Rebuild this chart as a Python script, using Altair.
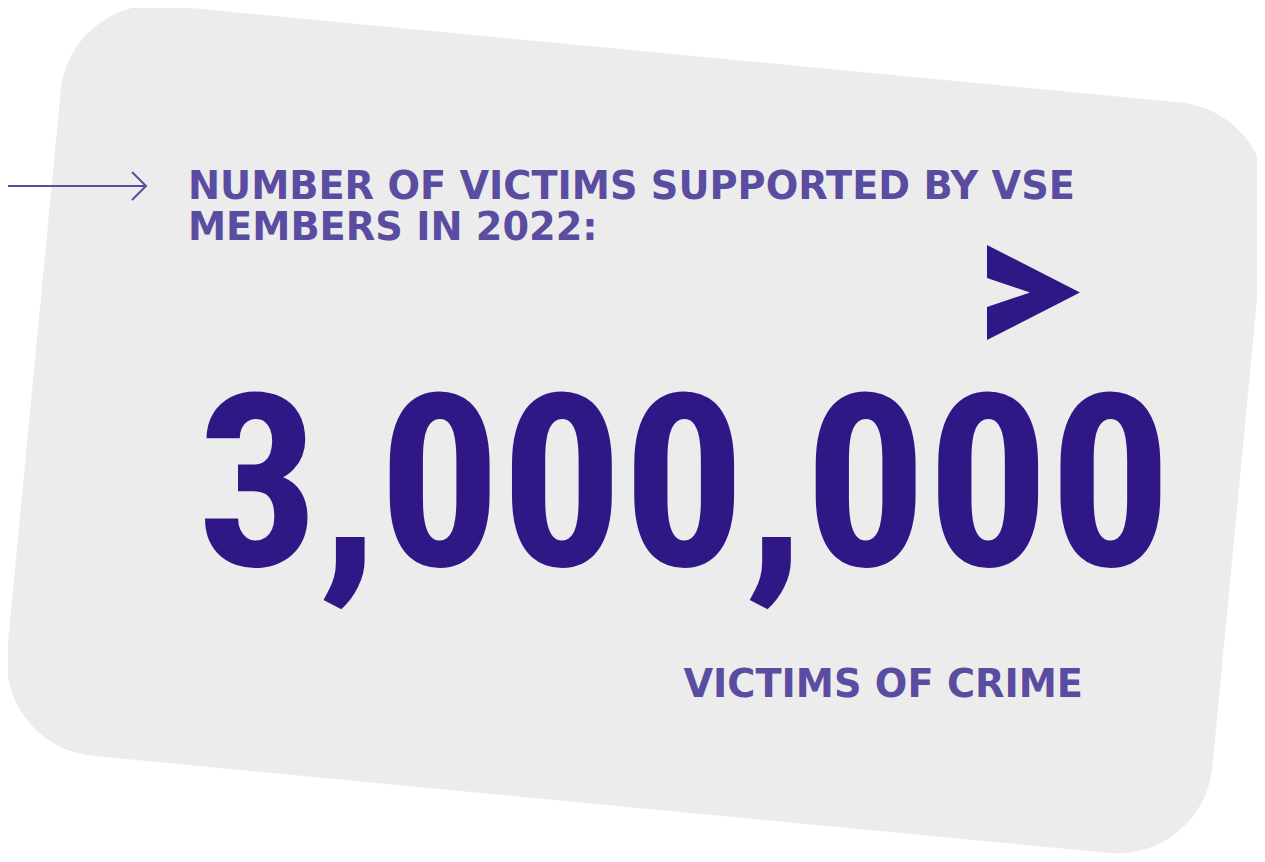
import altair as alt

# ---- data ----
headline_lines = ["NUMBER OF VICTIMS SUPPORTED BY VSE", "MEMBERS IN 2022:"]
big_number = ["3,000,000"]
unit_label = ["VICTIMS OF CRIME"]

W, H = 1249, 846
LIGHT = "#5a4ca1"
DARK = "#2f1886"
CARD = "#ececec"

# rounded rectangle path in unit coordinates (scaled by sqrt(size)/2)
h = 0.6226
r = 0.157
k = 0.5523 * r
card_path = (
    f"M {-1+r} {-h} L {1-r} {-h} "
    f"C {1-r+k} {-h} 1 {-h+r-k} 1 {-h+r} "
    f"L 1 {h-r} C 1 {h-r+k} {1-r+k} {h} {1-r} {h} "
    f"L {-1+r} {h} C {-1+r-k} {h} -1 {h-r+k} -1 {h-r} "
    f"L -1 {-h+r} C -1 {-h+r-k} {-1+r-k} {-h} {-1+r} {-h} Z"
)
chevron_path = "M -0.979 -1 L 0.979 0 L -0.979 1 L -0.979 0.305 L -0.074 0 L -0.979 -0.305 Z"
arrow_head_path = "M -0.5 -1 L 0.5 0 L -0.5 1"

one = alt.Data(values=[{"k": 0}])

card = alt.Chart(one).mark_point(
    shape=card_path, size=1210.7 ** 2, angle=5.46, filled=True,
    fill=CARD, opacity=1, strokeWidth=0
).encode(x=alt.value(628.5), y=alt.value(421.2))

shaft = alt.Chart(one).mark_rule(color=LIGHT, strokeWidth=2).encode(
    x=alt.value(0), x2=alt.value(137), y=alt.value(178)
)
head = alt.Chart(one).mark_point(
    shape=arrow_head_path, size=784, filled=False, stroke=LIGHT,
    strokeWidth=2, opacity=1
).encode(x=alt.value(131), y=alt.value(178))

headline = alt.Chart(
    alt.Data(values=[{"t": "\n".join(headline_lines)}])
).mark_text(
    font="DejaVu Sans", fontWeight="bold", fontSize=38.3, color=LIGHT,
    align="left", baseline="alphabetic", lineBreak="\n", lineHeight=41
).encode(text="t:N", x=alt.value(180), y=alt.value(191))

chevron = alt.Chart(one).mark_point(
    shape=chevron_path, size=95 ** 2, filled=True, fill=DARK,
    opacity=1, strokeWidth=0
).encode(x=alt.value(1025.5), y=alt.value(284.5))

number = alt.Chart(alt.Data(values=[{"t": big_number[0]}])).mark_text(
    font="'Roboto Condensed', 'Open Sans Condensed', 'Noto Sans Condensed', 'Noto Sans ExtraCondensed', Roboto",
    fontWeight="bold", fontSize=242,
    color=DARK, align="left", baseline="alphabetic"
).encode(text="t:N", x=alt.value(189), y=alt.value(558))

unit = alt.Chart(alt.Data(values=[{"t": unit_label[0]}])).mark_text(
    font="DejaVu Sans", fontWeight="bold", fontSize=38.3, color=LIGHT,
    align="right", baseline="alphabetic"
).encode(text="t:N", x=alt.value(1075), y=alt.value(689))

chart = alt.layer(card, shaft, head, headline, chevron, number, unit).properties(
    width=W, height=H, padding=0, autosize=alt.AutoSizeParams(type="none"),
    background="white"
).configure_view(stroke=None)

chart.save("out.html", embed_options={"renderer": "svg", "actions": False})
